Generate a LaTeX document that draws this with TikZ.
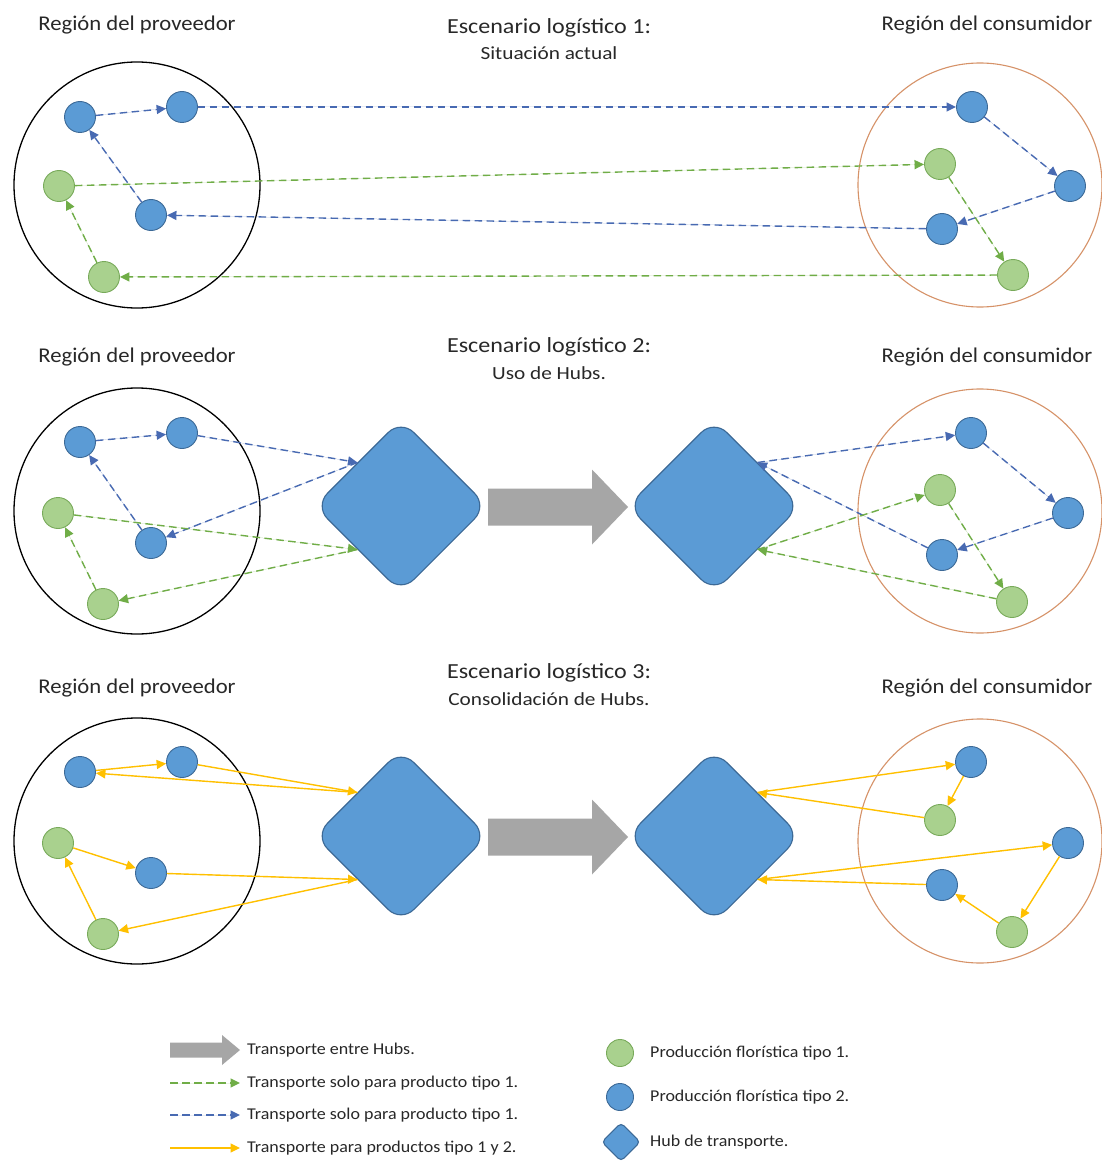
\documentclass[tikz,border=0pt]{standalone}
\usepackage{fontspec}
\setmainfont{Carlito}
\usetikzlibrary{arrows.meta}

\definecolor{nblue}{RGB}{91,155,213}
\definecolor{nblueD}{RGB}{60,105,150}
\definecolor{ngreen}{RGB}{169,209,142}
\definecolor{ngreenD}{RGB}{120,170,90}
\definecolor{lblue}{RGB}{72,106,178}
\definecolor{lgreen}{RGB}{112,173,71}
\definecolor{lyellow}{RGB}{255,192,0}
\definecolor{agray}{RGB}{166,166,166}
\definecolor{corange}{RGB}{214,146,104}
\definecolor{txt}{RGB}{40,40,40}

\begin{document}
\begin{tikzpicture}[x=1pt,y=-1pt,
  every node/.style={text=txt},
  head/.style={font=\fontsize{21}{25}\selectfont, inner sep=0pt, xscale=1.08},
  ttl/.style={font=\fontsize{21.5}{26}\selectfont, inner sep=0pt, xscale=1.12},
  subttl/.style={font=\fontsize{18.5}{22}\selectfont, inner sep=0pt, xscale=1.15},
  leg/.style={font=\fontsize{16.5}{20}\selectfont, inner sep=0pt, anchor=west, xscale=1.09},
  regionP/.style={circle, draw=black, line width=1.3pt, minimum size=246pt, inner sep=0pt},
  regionC/.style={circle, draw=corange, line width=1.1pt, minimum size=244pt, inner sep=0pt},
  typeone/.style={circle, fill=ngreen, draw=ngreenD, line width=0.9pt, minimum size=31pt, inner sep=0pt},
  typetwo/.style={circle, fill=nblue, draw=nblueD, line width=0.9pt, minimum size=31pt, inner sep=0pt},
  hub/.style={rectangle, rotate=45, fill=nblue, draw=nblueD, line width=1.1pt,
              minimum size=122pt, rounded corners=18pt, inner sep=0pt},
  tip/.style={-{Triangle[length=9.5pt,width=9pt]}},
  gd/.style={tip, draw=lgreen, fill=lgreen, line width=1.4pt, dash pattern=on 7.5pt off 4.5pt},
  bd/.style={tip, draw=lblue, fill=lblue, line width=1.4pt, dash pattern=on 7.5pt off 4.5pt},
  ys/.style={tip, draw=lyellow, fill=lyellow, line width=1.4pt},
  bigarrow/.pic={\fill[agray] (0,-18.5) -- (104,-18.5) -- (104,-37.5) -- (140,0)
                 -- (104,37.5) -- (104,18.5) -- (0,18.5) -- cycle;},
  smallarrow/.pic={\fill[agray] (0,-7.5) -- (52,-7.5) -- (52,-15) -- (70,0)
                 -- (52,15) -- (52,7.5) -- (0,7.5) -- cycle;}
]
\useasboundingbox (0,0) rectangle (1102,1161);
\fill[white] (0,0) rectangle (1102,1161);

% ---------- Scenario 1 ----------
\node[head] (hdL1) at (137,25) {Región del proveedor};
\node[ttl] (ttl1) at (549,28) {Escenario logístico 1:};
\node[subttl] (sub1) at (549,53) {Situación actual};
\node[head] (hdR1) at (987,25) {Región del consumidor};

\node[regionP] (RP1) at (137,185) {};
\node[regionC] (RC1) at (980,185) {};

\node[typetwo] (A1) at (80,117) {};
\node[typetwo] (B1) at (182,107) {};
\node[typeone] (C1) at (59,186) {};
\node[typetwo] (D1) at (151,215) {};
\node[typeone] (E1) at (104,277) {};
\node[typetwo] (F1) at (972,107) {};
\node[typeone] (G1) at (940,164) {};
\node[typetwo] (H1) at (1070,186) {};
\node[typetwo] (I1) at (942,229) {};
\node[typeone] (J1) at (1013,275) {};

\draw[bd] (A1) -- (B1);
\draw[bd] (D1) -- (A1);
\draw[bd] (B1) -- (F1);
\draw[gd] (C1) -- (G1);
\draw[bd] (I1) -- (D1);
\draw[gd] (J1) -- (E1);
\draw[gd] (E1) -- (C1);
\draw[bd] (F1) -- (H1);
\draw[bd] (H1) -- (I1);
\draw[gd] (G1) -- (J1);

% ---------- Scenario 2 ----------
\node[head] (hdL2) at (137,357) {Región del proveedor};
\node[ttl] (ttl2) at (549,347) {Escenario logístico 2:};
\node[subttl] (sub2) at (549,373) {Uso de Hubs.};
\node[head] (hdR2) at (987,357) {Región del consumidor};

\node[regionP] (RP2) at (137,511) {};
\node[regionC] (RC2) at (980,511) {};

\node[hub] (HL2) at (401,506) {};
\node[hub] (HR2) at (714,506) {};
\pic at (488,507) {bigarrow};

\node[typetwo] (A2) at (80,442) {};
\node[typetwo] (B2) at (182,433) {};
\node[typeone] (C2) at (58,513) {};
\node[typetwo] (D2) at (151,543) {};
\node[typeone] (E2) at (103,604) {};
\node[typetwo] (F2) at (971,433) {};
\node[typeone] (G2) at (940,490) {};
\node[typetwo] (H2) at (1068,513) {};
\node[typetwo] (I2) at (942,555) {};
\node[typeone] (J2) at (1012,602) {};

\draw[bd] (A2) -- (B2);
\draw[bd] (D2) -- (A2);
\draw[bd] (B2) -- (HL2.north);
\draw[bd] (HL2.north) -- (D2);
\draw[gd] (C2) -- (HL2.west);
\draw[gd] (HL2.west) -- (E2);
\draw[gd] (E2) -- (C2);
\draw[bd] (HR2.east) -- (F2);
\draw[bd] (I2) -- (HR2.east);
\draw[bd] (F2) -- (H2);
\draw[bd] (H2) -- (I2);
\draw[gd] (HR2.south) -- (G2);
\draw[gd] (J2) -- (HR2.south);
\draw[gd] (G2) -- (J2);

% ---------- Scenario 3 ----------
\node[head] (hdL3) at (137,688) {Región del proveedor};
\node[ttl] (ttl3) at (549,673) {Escenario logístico 3:};
\node[subttl] (sub3) at (549,699) {Consolidación de Hubs.};
\node[head] (hdR3) at (987,688) {Región del consumidor};

\node[regionP] (RP3) at (137,841) {};
\node[regionC] (RC3) at (980,841) {};

\node[hub] (HL3) at (401,836) {};
\node[hub] (HR3) at (714,836) {};
\pic at (488,837) {bigarrow};

\node[typetwo] (A3) at (80,772) {};
\node[typetwo] (B3) at (182,762) {};
\node[typeone] (C3) at (58,843) {};
\node[typetwo] (D3) at (151,873) {};
\node[typeone] (E3) at (103,934) {};
\node[typetwo] (F3) at (971,762) {};
\node[typeone] (G3) at (940,820) {};
\node[typetwo] (H3) at (1068,843) {};
\node[typetwo] (I3) at (942,885) {};
\node[typeone] (J3) at (1012,932) {};

\draw[ys] (A3) -- (B3);
\draw[ys] (HL3.north) -- (A3);
\draw[ys] (B3) -- (HL3.north);
\draw[ys] (C3) -- (D3);
\draw[ys] (E3) -- (C3);
\draw[ys] (D3) -- (HL3.west);
\draw[ys] (HL3.west) -- (E3);
\draw[ys] (HR3.east) -- (F3);
\draw[ys] (G3) -- (HR3.east);
\draw[ys] (F3) -- (G3);
\draw[ys] (HR3.south) -- (H3);
\draw[ys] (I3) -- (HR3.south);
\draw[ys] (H3) -- (J3);
\draw[ys] (J3) -- (I3);

% ---------- Legend ----------
\pic at (170,1050) {smallarrow};
\node[leg] (LT1) at (247,1050) {Transporte entre Hubs.};
\coordinate (lg0) at (170,1083);
\coordinate (lg1) at (240,1083);
\draw[gd] (lg0) -- (lg1);
\node[leg] (LT2) at (247,1083) {Transporte solo para producto tipo 1.};
\coordinate (lb0) at (170,1115);
\coordinate (lb1) at (240,1115);
\draw[bd] (lb0) -- (lb1);
\node[leg] (LT3) at (247,1115) {Transporte solo para producto tipo 1.};
\coordinate (ly0) at (170,1148);
\coordinate (ly1) at (240,1148);
\draw[ys] (ly0) -- (ly1);
\node[leg] (LT4) at (247,1148) {Transporte para productos tipo 1 y 2.};

\node[typeone, minimum size=27pt] (LG) at (620,1053) {};
\node[leg] (LT5) at (650,1053) {Producción florística tipo 1.};
\node[typetwo, minimum size=27pt] (LB) at (620,1097) {};
\node[leg] (LT6) at (650,1097) {Producción florística tipo 2.};
\node[hub, minimum size=27pt, rounded corners=4pt] (LH) at (621,1142) {};
\node[leg] (LT7) at (650,1142) {Hub de transporte.};
\end{tikzpicture}
\end{document}
